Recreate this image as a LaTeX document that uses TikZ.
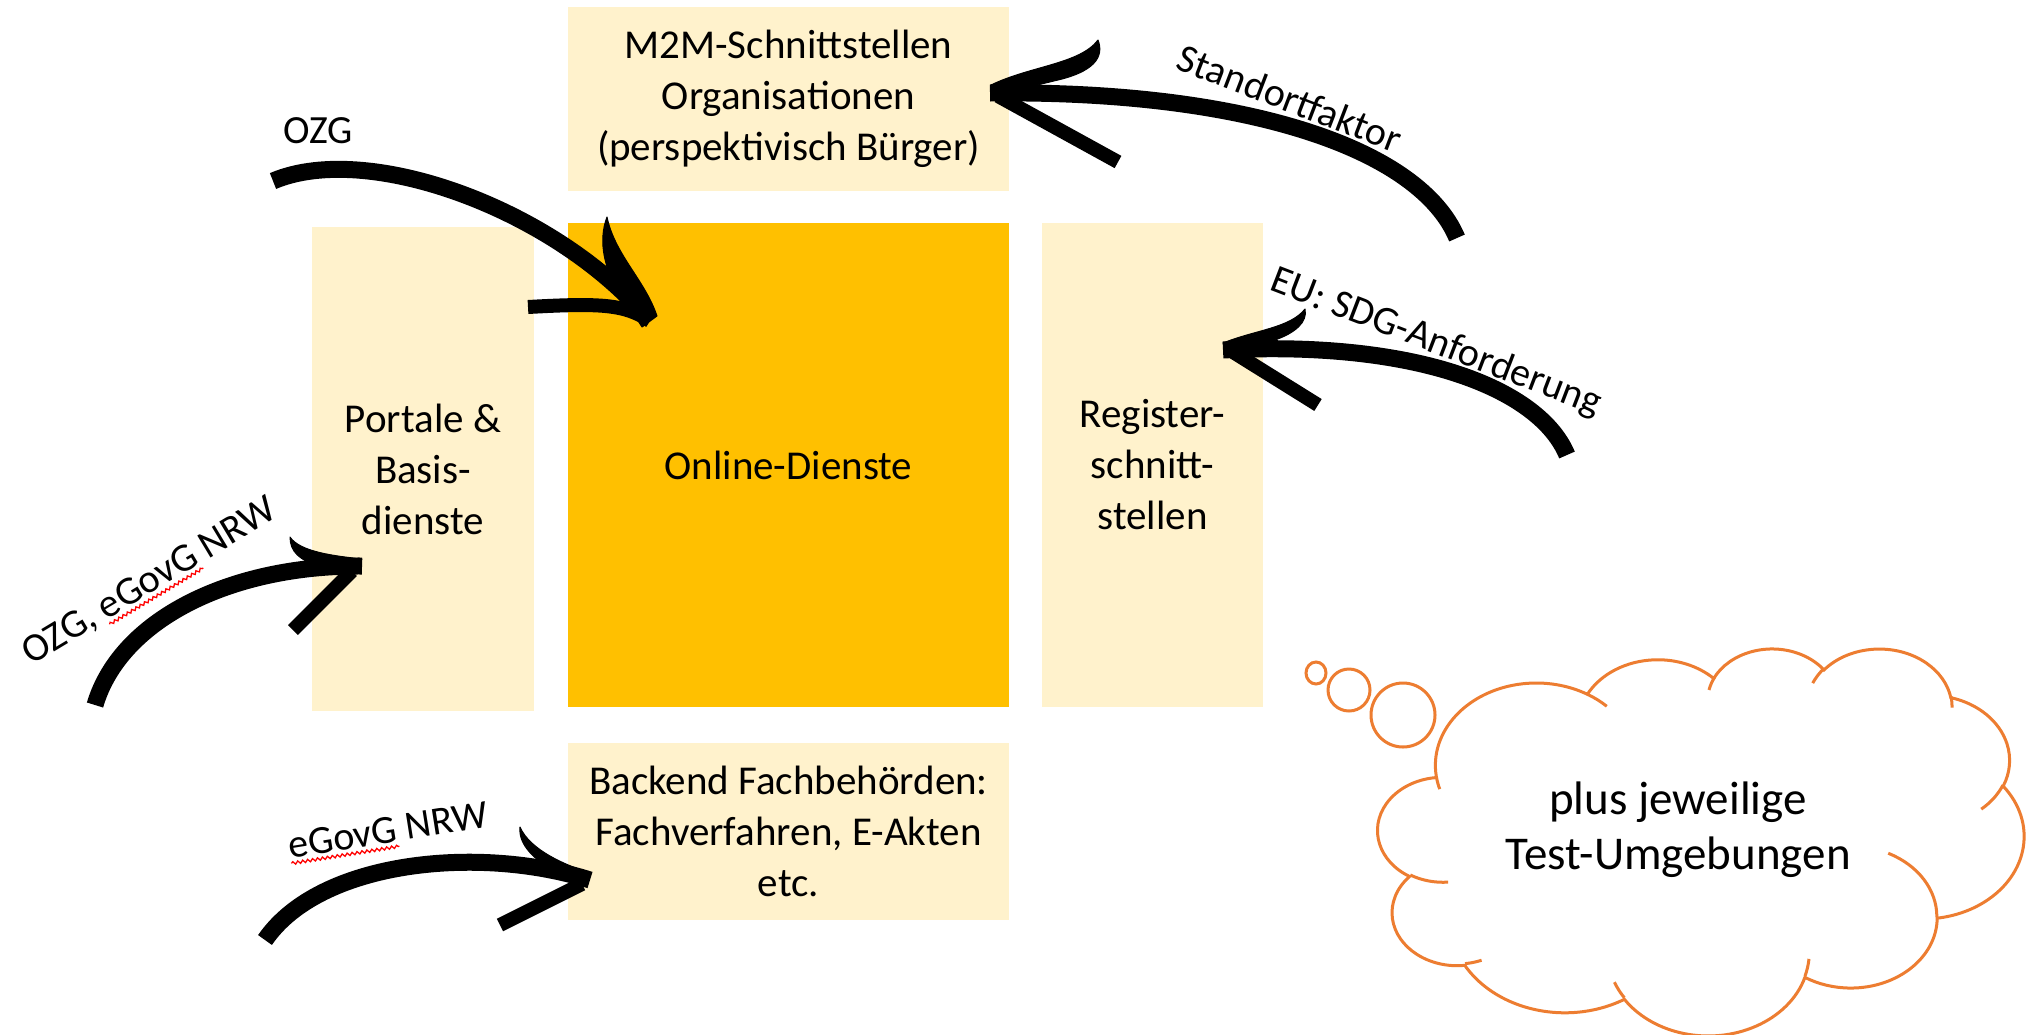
\documentclass[tikz,border=0pt]{standalone}
\usepackage{fontspec}
\setmainfont{Carlito}
\usetikzlibrary{decorations.pathmorphing}
\definecolor{boxlight}{HTML}{FFF2CC}
\definecolor{boxgold}{HTML}{FFC000}
\definecolor{cloudorange}{HTML}{ED7D31}
\newcommand\boxfont{\fontsize{41}{51}\selectfont}
\newcommand\lblfont{\fontsize{40}{48}\selectfont}
\newcommand\cloudfont{\fontsize{47}{55}\selectfont}
\newcommand\spellmark[1]{\setbox0=\hbox{#1}\rlap{\tikz[overlay]\draw[red, line width=1.3pt,
  decorate, decoration={snake, amplitude=1.4pt, segment length=5pt}] (0pt,-5pt) -- (\the\wd0,-5pt);}\box0\relax}
% OOXML-style arcTo: radii, visual start angle, visual sweep
\newcommand\oarc[4]{arc[x radius=#1, y radius=#2,
  start angle={atan2((#1)*sin(#3),(#2)*cos(#3))},
  delta angle={atan2((#1)*sin((#3)+(#4)),(#2)*cos((#3)+(#4))) - atan2((#1)*sin(#3),(#2)*cos(#3))
   - 360*round((atan2((#1)*sin((#3)+(#4)),(#2)*cos((#3)+(#4))) - atan2((#1)*sin(#3),(#2)*cos(#3)) - (#4))/360)}]}
\begin{document}
\begin{tikzpicture}[x=1pt,y=-1pt,
  box/.style={fill=boxlight, draw=none, inner sep=0pt, align=center, font=\boxfont},
  goldbox/.style={box, fill=boxgold},
  brush/.style={draw=black, line width=17pt, line cap=butt},
  barb/.style={draw=black, line width=14pt, line cap=butt, line join=round},
  hook/.style={fill=black, draw=black, line width=1pt, line join=round},
  lbl/.style={font=\lblfont, inner sep=0pt, text=black},
  cloudline/.style={draw=cloudorange, line width=3pt}]
\useasboundingbox (0,0) rectangle (2029,1034);
\fill[white] (0,0) rectangle (2029,1034);

% boxes
\node[box, minimum width=441pt, minimum height=184pt] (m2m) at (788.5,99)
  {M2M-Schnittstellen\\Organisationen\\(perspektivisch Bürger)};
\node[box, minimum width=222pt, minimum height=484pt] (portale) at (423,469)
  {Portale \&\\Basis-\\dienste};
\node[goldbox, minimum width=441pt, minimum height=484pt] (online) at (788.5,465)
  {Online-Dienste};
\node[box, minimum width=221pt, minimum height=484pt] (register) at (1152.5,465)
  {Register-\\schnitt-\\stellen};
\node[box, minimum width=441pt, minimum height=177pt] (backend) at (788.5,831.5)
  {Backend Fachbehörden:\\Fachverfahren, E-Akten\\etc.};

% arrow OZG -> Online-Dienste
\coordinate (ozgTail) at (273,181);
\coordinate (ozgTip) at (650,321);
\draw[brush] (ozgTail) .. controls (370,140) and (560,212) .. (ozgTip);
\fill[hook] (657,316) .. controls (645,280) and (615,255) .. (607,217)
  .. controls (598,240) and (603,272) .. (625,300) -- (642,327) -- cycle;
\draw[barb] (ozgTip) .. controls (625,304) and (600,303) .. (528,307);

% arrow Standortfaktor -> M2M
\coordinate (stTail) at (1457,238);
\coordinate (stTip) at (990,93);
\draw[brush] (stTail) .. controls (1420,150) and (1250,90) .. (stTip);
\fill[hook] (991,85) .. controls (1030,66) and (1080,64) .. (1098,40)
  .. controls (1105,58) and (1092,72) .. (1058,80) -- (1000,94) -- cycle;
\draw[barb] (stTip) ++(8,3) -- (1118,162);

% arrow EU -> Register
\coordinate (euTail) at (1567,455);
\coordinate (euTip) at (1223,350);
\draw[brush] (euTail) .. controls (1540,390) and (1420,340) .. (euTip);
\fill[hook] (1223,343) .. controls (1255,330) and (1290,328) .. (1305,309)
  .. controls (1308,322) and (1295,333) .. (1275,340) -- (1230,352) -- cycle;
\draw[barb] (euTip) ++(10,2) -- (1318,405);

% arrow OZG, eGovG NRW -> Portale
\coordinate (ozgeTail) at (95,705);
\coordinate (ozgeTip) at (362,566);
\draw[brush] (ozgeTail) .. controls (120,620) and (230,565) .. (ozgeTip);
\fill[hook] (362,559) .. controls (335,556) and (300,552) .. (290,537)
  .. controls (290,552) and (300,560) .. (318,566) -- (355,572) -- cycle;
\draw[barb] (ozgeTip) ++(-10,5) -- (293,630);

% arrow eGovG NRW -> Backend
\coordinate (egTail) at (265,940);
\coordinate (egTip) at (590,880);
\draw[brush] (egTail) .. controls (320,860) and (480,845) .. (egTip);
\fill[hook] (590,873) .. controls (565,865) and (530,850) .. (520,827)
  .. controls (518,845) and (535,860) .. (555,872) -- (585,885) -- cycle;
\draw[barb] (egTip) ++(-8,4) -- (500,925);

% labels
\node[lbl] (lozg) at (318,131) {OZG};
\node[lbl, rotate=-21] (lstand) at (1290,98) {Standortfaktor};
\node[lbl, rotate=-21] (leu) at (1436,343) {EU: SDG-Anforderung};
\node[lbl, rotate=31] (lozge) at (150,582) {OZG, \spellmark{eGovG} NRW};
\node[lbl, rotate=9] (legov) at (388,830) {\spellmark{eGovG} NRW};

% thought cloud
\draw[cloudline] (1316,673) circle[x radius=10, y radius=11];
\draw[cloudline] (1349,690) circle[x radius=21, y radius=21];
\draw[cloudline] (1403,715) circle[x radius=32, y radius=32];
\begin{scope}[shift={(1378,647.7)}, x=1.495pt, y=-0.8955pt]
\filldraw[cloudline, fill=white] (39,143.7)
  \oarc{67.53}{91.90}{-190.4875}{123.7805}
  \oarc{53.33}{72.67}{-144.1024}{89.9452}
  \oarc{43.65}{59.45}{-145.8079}{99.7230}
  \oarc{48.57}{65.95}{-130.9861}{117.2417}
  \oarc{53.33}{72.73}{-78.7089}{109.0269}
  \oarc{67.75}{92.20}{-46.2673}{130.2690}
  \oarc{57.85}{78.67}{0.6250}{114.0333}
  \oarc{67.52}{92.15}{22.4516}{115.1726}
  \oarc{77.20}{105.43}{66.2426}{75.7110}
  \oarc{43.60}{59.18}{-274.9421}{146.7356}
  \oarc{43.45}{59.45}{-246.8285}{152.5189}
  -- cycle;
\draw[cloudline]
  (46.93,261.77) \oarc{43.45}{59.45}{86.742}{26.4295}
  (69.28,348.99) \oarc{43.60}{59.18}{73.6105}{11.4475}
  (164.78,390.90) \oarc{67.52}{92.15}{137.6242}{14.0811}
  (288.27,347.51) \oarc{67.52}{92.15}{6.4533}{15.9984}
  (341.29,229.54) \oarc{57.85}{78.67}{-70.2924}{70.9174}
  (417.98,153.54) \oarc{53.33}{72.73}{30.3180}{27.7515}
  (383.24,54.26) \oarc{48.57}{65.95}{-13.7443}{14.8576}
  (290.78,39.52) \oarc{48.57}{65.95}{-149.1815}{18.1932}
  (221.41,47.20) \oarc{43.65}{59.45}{-163.4943}{17.6864}
  (140.00,51.92) \oarc{67.53}{91.90}{-66.7070}{12.3194}
  (41.27,157.89) \oarc{67.53}{91.90}{157.6544}{11.8582};
\end{scope}
\node[font=\cloudfont, align=center, inner sep=0pt] (cloudtext) at (1678,830)
  {plus jeweilige\\Test-Umgebungen};

% slide number, mostly cut off
\node[font=\lblfont, text=gray, inner sep=0pt] (pagenum) at (1953,1050) {6};
\end{tikzpicture}
\end{document}
